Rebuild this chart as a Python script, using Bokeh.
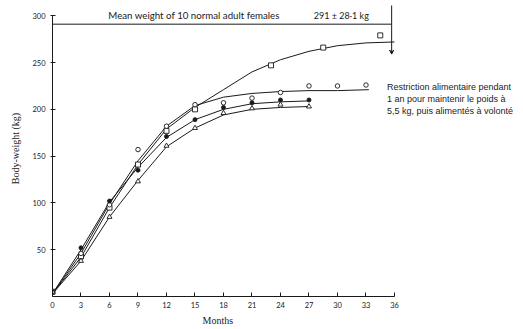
from bokeh.plotting import figure
from bokeh.models import FixedTicker, Arrow, VeeHead, Range1d, Title
from bokeh.core.properties import value
from bokeh.embed import file_html
from bokeh.resources import INLINE

# ---- observed points ----
months_sq = [0, 3, 6, 9, 12, 15, 23, 28.5, 34.5]
wt_sq = [5, 43, 95, 141, 177, 200, 247, 266, 279]
months_oc = [0, 3, 6, 9, 12, 15, 18, 21, 24, 27, 30, 33]
wt_oc = [5, 46, 98, 157, 182, 205, 207, 212, 218, 225, 225, 226]
months_fc = [0, 3, 6, 9, 12, 15, 18, 21, 24, 27]
wt_fc = [5, 52, 102, 135, 171, 189, 202, 207, 210, 210]
months_tr = [0, 3, 6, 9, 12, 15, 18, 21, 24, 27]
wt_tr = [5, 38, 85, 123, 161, 180, 196, 201, 205, 203]

# ---- fitted curves ----
curve_sq_m = [0, 3, 6, 9, 12, 15, 18, 21, 24, 27, 30, 33, 36]
curve_sq_w = [3, 42, 95, 141, 179, 202, 221, 240, 253, 262, 268, 271, 272]
curve_oc_m = [0, 3, 6, 9, 12, 15, 18, 21, 24, 27, 30, 33.3]
curve_oc_w = [3, 46, 99, 145, 182, 204, 213, 217, 219, 220, 220, 221]
curve_fc_m = [0, 3, 6, 9, 12, 15, 18, 21, 24, 27]
curve_fc_w = [3, 50, 101, 138, 170, 189, 200, 206, 208, 209]
curve_tr_m = [0, 3, 6, 9, 12, 15, 18, 21, 24, 27]
curve_tr_w = [3, 38, 85, 124, 160, 180, 194, 200, 202, 203]

x_ticks = list(range(0, 37, 3))
y_ticks = [50, 100, 150, 200, 250, 300]

mean_weight = 291
mean_label = "Mean weight of 10 normal adult females"
mean_value_label = "291 \u00b1 28\u00b71 kg"
note_text = "Restriction alimentaire pendant\n1 an pour maintenir le poids \u00e0\n5,5 kg, puis aliment\u00e9s \u00e0 volont\u00e9"
x_title = "Months"
y_title = "Body-weight (kg)"

INK = "#1a1a1a"

p = figure(width=523, height=329, output_backend="svg", toolbar_location=None,
           x_range=Range1d(0, 49.58), y_range=Range1d(0, 316.3),
           min_border_left=52, min_border_right=0, min_border_top=0, min_border_bottom=33)
p.outline_line_color = None
p.xgrid.visible = False
p.ygrid.visible = False
p.background_fill_color = "white"

# axes
p.xaxis.ticker = FixedTicker(ticks=x_ticks)
p.yaxis.ticker = FixedTicker(ticks=y_ticks)
p.xaxis.bounds = (0, 36)
p.yaxis.bounds = (0, 300)
for ax in (p.xaxis[0], p.yaxis[0]):
    ax.axis_line_color = INK
    ax.major_tick_line_color = INK
    ax.minor_tick_line_color = None
    ax.major_label_text_font = "Lato"
    ax.major_label_text_font_size = "7.5px"
    ax.major_label_text_color = INK
    ax.axis_label_text_font = "Liberation Serif"
    ax.axis_label_text_font_size = "10px"
    ax.axis_label_text_font_style = "normal"
    ax.axis_label_text_color = INK
p.xaxis.major_tick_in = 4
p.xaxis.major_tick_out = 0
p.xaxis.major_label_standoff = 5
p.yaxis.major_tick_in = 3
p.yaxis.major_tick_out = 2
p.yaxis.major_label_standoff = 5
p.yaxis.axis_label = y_title
p.yaxis.axis_label_standoff = 8

# x-axis title, placed under the bounded axis (months 0-36)
p.add_layout(Title(text=x_title, align="left", offset=150, standoff=5,
                   text_font="Liberation Serif", text_font_size="10px",
                   text_font_style="normal", text_color=INK), "below")

# fitted curves
for m, w in ((curve_sq_m, curve_sq_w), (curve_oc_m, curve_oc_w),
             (curve_fc_m, curve_fc_w), (curve_tr_m, curve_tr_w)):
    p.line(m, w, line_color=INK, line_width=1)

# points
p.scatter(months_sq, wt_sq, marker="square", size=5, fill_color="white", line_color=INK, line_width=0.9)
p.scatter(months_oc, wt_oc, marker="circle", size=4.5, fill_color="white", line_color=INK, line_width=0.9)
p.scatter(months_fc, wt_fc, marker="circle", size=4, fill_color=INK, line_color=INK, line_width=0.9)
p.scatter(months_tr, wt_tr, marker="triangle", size=5, fill_color="white", line_color=INK, line_width=0.9)

# mean adult weight line and arrow
arrow_month = 35.7
p.line([0, arrow_month], [mean_weight, mean_weight], line_color=INK, line_width=1)
p.add_layout(Arrow(end=VeeHead(size=4, line_color=INK, line_width=1),
                   x_start=arrow_month, y_start=311, x_end=arrow_month, y_end=259,
                   line_color=INK, line_width=1))
p.text(x=[14.9], y=[300.5], text=[mean_label], text_font=value("Lato"), text_font_size="9.7px",
       text_align="center", text_baseline="middle", text_color=INK)
p.text(x=[30.4], y=[300.5], text=[mean_value_label], text_font=value("Lato"), text_font_size="9px",
       text_align="center", text_baseline="middle", text_color=INK)

# side note
p.text(x=[35.2], y=[229.5], text=[note_text], text_font=value("Liberation Sans"), text_font_size="9px",
       text_align="left", text_baseline="top", text_line_height=1.2, text_color="#222222")

open("out.html", "w").write(file_html(p, INLINE))
